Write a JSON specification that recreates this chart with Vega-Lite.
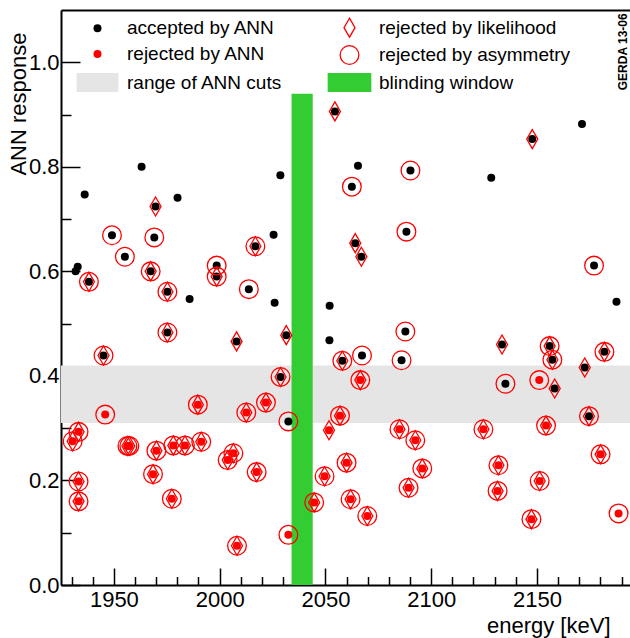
{
  "$schema": "https://vega.github.io/schema/vega-lite/v6.json",
  "width": 569,
  "height": 575,
  "autosize": "none",
  "padding": {"left": 61, "top": 10, "right": 0, "bottom": 53},
  "background": "white",
  "datasets": {
    "bands": [
      {"kind": "range of ANN cuts", "e_lo": 1925, "e_hi": 2194, "a_lo": 0.31, "a_hi": 0.42},
      {"kind": "blinding window", "e_lo": 2034, "e_hi": 2044, "a_lo": 0, "a_hi": 0.94}
    ],
    "events": [
      {"energy": 1931.9, "ann": 0.600, "kind": "accepted by ANN", "lik": false, "asym": false},
      {"energy": 1932.9, "ann": 0.609, "kind": "accepted by ANN", "lik": false, "asym": false},
      {"energy": 1936.2, "ann": 0.747, "kind": "accepted by ANN", "lik": false, "asym": false},
      {"energy": 1938.2, "ann": 0.580, "kind": "accepted by ANN", "lik": true, "asym": true},
      {"energy": 1949.1, "ann": 0.669, "kind": "accepted by ANN", "lik": false, "asym": true},
      {"energy": 1955.2, "ann": 0.628, "kind": "accepted by ANN", "lik": false, "asym": true},
      {"energy": 1963.1, "ann": 0.800, "kind": "accepted by ANN", "lik": false, "asym": false},
      {"energy": 1969.7, "ann": 0.724, "kind": "accepted by ANN", "lik": true, "asym": false},
      {"energy": 1969.1, "ann": 0.665, "kind": "accepted by ANN", "lik": false, "asym": true},
      {"energy": 1967.4, "ann": 0.600, "kind": "accepted by ANN", "lik": true, "asym": true},
      {"energy": 1980.1, "ann": 0.741, "kind": "accepted by ANN", "lik": false, "asym": false},
      {"energy": 1975.3, "ann": 0.561, "kind": "accepted by ANN", "lik": true, "asym": true},
      {"energy": 1985.8, "ann": 0.547, "kind": "accepted by ANN", "lik": false, "asym": false},
      {"energy": 1998.6, "ann": 0.611, "kind": "accepted by ANN", "lik": false, "asym": true},
      {"energy": 1998.6, "ann": 0.590, "kind": "accepted by ANN", "lik": true, "asym": true},
      {"energy": 2013.8, "ann": 0.566, "kind": "accepted by ANN", "lik": false, "asym": true},
      {"energy": 2016.9, "ann": 0.648, "kind": "accepted by ANN", "lik": true, "asym": true},
      {"energy": 2025.5, "ann": 0.670, "kind": "accepted by ANN", "lik": false, "asym": false},
      {"energy": 2026.0, "ann": 0.540, "kind": "accepted by ANN", "lik": false, "asym": false},
      {"energy": 2028.7, "ann": 0.784, "kind": "accepted by ANN", "lik": false, "asym": false},
      {"energy": 2054.5, "ann": 0.906, "kind": "accepted by ANN", "lik": true, "asym": false},
      {"energy": 2171.3, "ann": 0.882, "kind": "accepted by ANN", "lik": false, "asym": false},
      {"energy": 2147.8, "ann": 0.853, "kind": "accepted by ANN", "lik": true, "asym": false},
      {"energy": 2065.4, "ann": 0.802, "kind": "accepted by ANN", "lik": false, "asym": false},
      {"energy": 2090.2, "ann": 0.793, "kind": "accepted by ANN", "lik": false, "asym": true},
      {"energy": 2128.4, "ann": 0.779, "kind": "accepted by ANN", "lik": false, "asym": false},
      {"energy": 2062.5, "ann": 0.762, "kind": "accepted by ANN", "lik": false, "asym": true},
      {"energy": 2088.3, "ann": 0.676, "kind": "accepted by ANN", "lik": false, "asym": true},
      {"energy": 2064.1, "ann": 0.654, "kind": "accepted by ANN", "lik": true, "asym": false},
      {"energy": 2067.0, "ann": 0.628, "kind": "accepted by ANN", "lik": true, "asym": false},
      {"energy": 2177.0, "ann": 0.611, "kind": "accepted by ANN", "lik": false, "asym": true},
      {"energy": 2052.0, "ann": 0.534, "kind": "accepted by ANN", "lik": false, "asym": false},
      {"energy": 2187.6, "ann": 0.542, "kind": "accepted by ANN", "lik": false, "asym": false},
      {"energy": 1975.3, "ann": 0.483, "kind": "accepted by ANN", "lik": true, "asym": true},
      {"energy": 2008.0, "ann": 0.466, "kind": "accepted by ANN", "lik": true, "asym": false},
      {"energy": 2031.5, "ann": 0.478, "kind": "accepted by ANN", "lik": true, "asym": false},
      {"energy": 1945.1, "ann": 0.439, "kind": "accepted by ANN", "lik": true, "asym": true},
      {"energy": 2028.8, "ann": 0.398, "kind": "accepted by ANN", "lik": true, "asym": true},
      {"energy": 2032.5, "ann": 0.313, "kind": "accepted by ANN", "lik": false, "asym": true},
      {"energy": 2087.8, "ann": 0.485, "kind": "accepted by ANN", "lik": false, "asym": true},
      {"energy": 2051.9, "ann": 0.468, "kind": "accepted by ANN", "lik": false, "asym": false},
      {"energy": 2058.0, "ann": 0.429, "kind": "accepted by ANN", "lik": true, "asym": true},
      {"energy": 2067.3, "ann": 0.439, "kind": "accepted by ANN", "lik": false, "asym": true},
      {"energy": 2086.0, "ann": 0.430, "kind": "accepted by ANN", "lik": false, "asym": true},
      {"energy": 2133.5, "ann": 0.460, "kind": "accepted by ANN", "lik": true, "asym": false},
      {"energy": 2156.0, "ann": 0.457, "kind": "accepted by ANN", "lik": true, "asym": true},
      {"energy": 2157.3, "ann": 0.431, "kind": "accepted by ANN", "lik": true, "asym": true},
      {"energy": 2181.9, "ann": 0.446, "kind": "accepted by ANN", "lik": true, "asym": true},
      {"energy": 2172.6, "ann": 0.416, "kind": "accepted by ANN", "lik": true, "asym": false},
      {"energy": 2135.1, "ann": 0.385, "kind": "accepted by ANN", "lik": false, "asym": true},
      {"energy": 2158.4, "ann": 0.376, "kind": "accepted by ANN", "lik": true, "asym": false},
      {"energy": 2174.6, "ann": 0.323, "kind": "accepted by ANN", "lik": true, "asym": true},
      {"energy": 1945.9, "ann": 0.326, "kind": "rejected by ANN", "lik": false, "asym": true},
      {"energy": 1989.7, "ann": 0.345, "kind": "rejected by ANN", "lik": true, "asym": true},
      {"energy": 2012.6, "ann": 0.330, "kind": "rejected by ANN", "lik": true, "asym": true},
      {"energy": 2021.9, "ann": 0.349, "kind": "rejected by ANN", "lik": true, "asym": true},
      {"energy": 1930.5, "ann": 0.275, "kind": "rejected by ANN", "lik": true, "asym": true},
      {"energy": 1933.3, "ann": 0.293, "kind": "rejected by ANN", "lik": true, "asym": true},
      {"energy": 1956.4, "ann": 0.266, "kind": "rejected by ANN", "lik": true, "asym": true},
      {"energy": 1957.3, "ann": 0.266, "kind": "rejected by ANN", "lik": true, "asym": true},
      {"energy": 1970.1, "ann": 0.257, "kind": "rejected by ANN", "lik": true, "asym": true},
      {"energy": 1968.5, "ann": 0.212, "kind": "rejected by ANN", "lik": true, "asym": true},
      {"energy": 1978.1, "ann": 0.267, "kind": "rejected by ANN", "lik": true, "asym": true},
      {"energy": 1983.6, "ann": 0.267, "kind": "rejected by ANN", "lik": true, "asym": true},
      {"energy": 1991.3, "ann": 0.274, "kind": "rejected by ANN", "lik": true, "asym": true},
      {"energy": 2003.8, "ann": 0.239, "kind": "rejected by ANN", "lik": true, "asym": true},
      {"energy": 2006.5, "ann": 0.252, "kind": "rejected by ANN", "lik": true, "asym": true},
      {"energy": 2017.5, "ann": 0.216, "kind": "rejected by ANN", "lik": true, "asym": true},
      {"energy": 1933.3, "ann": 0.198, "kind": "rejected by ANN", "lik": true, "asym": true},
      {"energy": 1933.3, "ann": 0.160, "kind": "rejected by ANN", "lik": true, "asym": true},
      {"energy": 1977.4, "ann": 0.165, "kind": "rejected by ANN", "lik": true, "asym": true},
      {"energy": 2008.2, "ann": 0.075, "kind": "rejected by ANN", "lik": true, "asym": true},
      {"energy": 2032.5, "ann": 0.096, "kind": "rejected by ANN", "lik": false, "asym": true},
      {"energy": 2044.7, "ann": 0.158, "kind": "rejected by ANN", "lik": true, "asym": true},
      {"energy": 2066.5, "ann": 0.392, "kind": "rejected by ANN", "lik": true, "asym": true},
      {"energy": 2151.1, "ann": 0.392, "kind": "rejected by ANN", "lik": false, "asym": true},
      {"energy": 2056.9, "ann": 0.324, "kind": "rejected by ANN", "lik": true, "asym": true},
      {"energy": 2051.7, "ann": 0.296, "kind": "rejected by ANN", "lik": true, "asym": false},
      {"energy": 2085.0, "ann": 0.298, "kind": "rejected by ANN", "lik": true, "asym": true},
      {"energy": 2092.5, "ann": 0.277, "kind": "rejected by ANN", "lik": true, "asym": true},
      {"energy": 2124.7, "ann": 0.298, "kind": "rejected by ANN", "lik": true, "asym": true},
      {"energy": 2154.3, "ann": 0.305, "kind": "rejected by ANN", "lik": true, "asym": true},
      {"energy": 2060.0, "ann": 0.234, "kind": "rejected by ANN", "lik": true, "asym": true},
      {"energy": 2049.6, "ann": 0.208, "kind": "rejected by ANN", "lik": true, "asym": true},
      {"energy": 2095.8, "ann": 0.223, "kind": "rejected by ANN", "lik": true, "asym": true},
      {"energy": 2131.8, "ann": 0.229, "kind": "rejected by ANN", "lik": true, "asym": true},
      {"energy": 2180.1, "ann": 0.250, "kind": "rejected by ANN", "lik": true, "asym": true},
      {"energy": 2089.3, "ann": 0.186, "kind": "rejected by ANN", "lik": true, "asym": true},
      {"energy": 2131.4, "ann": 0.180, "kind": "rejected by ANN", "lik": true, "asym": true},
      {"energy": 2151.3, "ann": 0.199, "kind": "rejected by ANN", "lik": true, "asym": true},
      {"energy": 2061.9, "ann": 0.164, "kind": "rejected by ANN", "lik": true, "asym": true},
      {"energy": 2069.8, "ann": 0.132, "kind": "rejected by ANN", "lik": true, "asym": true},
      {"energy": 2147.4, "ann": 0.126, "kind": "rejected by ANN", "lik": true, "asym": true},
      {"energy": 2188.6, "ann": 0.137, "kind": "rejected by ANN", "lik": false, "asym": true}
    ]
  },
  "layer": [
    {
      "data": {"name": "bands"},
      "mark": {"type": "rect"},
      "encoding": {
        "x": {
          "field": "e_lo", "type": "quantitative",
          "scale": {"domain": [1925, 2194], "nice": false, "zero": false},
          "axis": {
            "orient": "bottom",
            "values": [1930, 1940, 1950, 1960, 1970, 1980, 1990, 2000, 2010, 2020, 2030, 2040, 2050, 2060, 2070, 2080, 2090, 2100, 2110, 2120, 2130, 2140, 2150, 2160, 2170, 2180, 2190],
            "format": "d",
            "labelExpr": "datum.value % 50 === 0 ? datum.label : ''",
            "tickSize": {"condition": {"test": "datum.value % 50 === 0", "value": -17}, "value": -8.5},
            "labelPadding": 21,
            "labelOverlap": false,
            "labelFlush": false,
            "title": "energy [keV]",
            "titleAlign": "right",
            "titleBaseline": "alphabetic",
            "titleX": 549,
            "titleY": 47
          }
        },
        "x2": {"field": "e_hi"},
        "y": {
          "field": "a_lo", "type": "quantitative",
          "scale": {"domain": [0, 1.1], "nice": false, "zero": false},
          "axis": {
            "values": [0, 0.05, 0.1, 0.15, 0.2, 0.25, 0.3, 0.35, 0.4, 0.45, 0.5, 0.55, 0.6, 0.65, 0.7, 0.75, 0.8, 0.85, 0.9, 0.95, 1.0, 1.05],
            "labelExpr": "round(datum.value * 100) % 20 === 0 ? format(datum.value, '.1f') : ''",
            "tickSize": {"condition": {"test": "round(datum.value * 100) % 20 === 0", "value": -19}, "value": -10},
            "labelPadding": 21,
            "labelOverlap": false,
            "labelFlush": false,
            "title": "ANN response",
            "titleAlign": "right",
            "titleBaseline": "alphabetic",
            "titleX": -36,
            "titleY": 22
          }
        },
        "y2": {"field": "a_hi"},
        "fill": {
          "field": "kind", "type": "nominal", "title": null,
          "scale": {
            "type": "ordinal",
            "domain": ["accepted by ANN", "rejected by ANN", "range of ANN cuts", "rejected by likelihood", "rejected by asymmetry", "blinding window"],
            "range": ["black", "red", "#e5e5e5", "transparent", "transparent", "#33cc33"]
          }
        }
      }
    },
    {
      "data": {"name": "events"},
      "mark": {"type": "point", "filled": true, "opacity": 1, "strokeWidth": 1.3},
      "encoding": {
        "x": {
          "field": "energy", "type": "quantitative",
          "axis": {"orient": "top", "ticks": false, "labels": false, "domain": true, "domainColor": "black", "domainWidth": 2, "title": null, "grid": false}
        },
        "y": {"field": "ann", "type": "quantitative"},
        "fill": {
          "field": "kind", "type": "nominal", "title": null,
          "scale": {
            "type": "ordinal",
            "domain": ["accepted by ANN", "rejected by ANN", "range of ANN cuts", "rejected by likelihood", "rejected by asymmetry", "blinding window"],
            "range": ["black", "red", "#e5e5e5", "transparent", "transparent", "#33cc33"]
          }
        },
        "stroke": {
          "field": "kind", "type": "nominal", "title": null,
          "scale": {
            "type": "ordinal",
            "domain": ["accepted by ANN", "rejected by ANN", "range of ANN cuts", "rejected by likelihood", "rejected by asymmetry", "blinding window"],
            "range": ["transparent", "transparent", "transparent", "red", "red", "transparent"]
          }
        },
        "shape": {
          "field": "kind", "type": "nominal", "title": null,
          "scale": {
            "type": "ordinal",
            "domain": ["accepted by ANN", "rejected by ANN", "range of ANN cuts", "rejected by likelihood", "rejected by asymmetry", "blinding window"],
            "range": ["circle", "circle", "M-2.2,-1L2.2,-1L2.2,1L-2.2,1Z", "M0,-1L0.58,0L0,1L-0.58,0Z", "circle", "M-2.3,-1L2.3,-1L2.3,1L-2.3,1Z"]
          }
        },
        "size": {
          "field": "kind", "type": "nominal", "title": null,
          "scale": {
            "type": "ordinal",
            "domain": ["accepted by ANN", "rejected by ANN", "range of ANN cuts", "rejected by likelihood", "rejected by asymmetry", "blinding window"],
            "range": [64, 64, 361, 361, 350, 361]
          }
        }
      }
    },
    {
      "data": {"name": "events"},
      "transform": [{"filter": "datum.lik"}],
      "mark": {"type": "point", "filled": true, "opacity": 1, "strokeWidth": 1.3},
      "encoding": {
        "x": {"field": "energy", "type": "quantitative", "axis": null},
        "y": {"field": "ann", "type": "quantitative"},
        "fill": {
          "datum": "rejected by likelihood", "type": "nominal", "title": null,
          "scale": {
            "type": "ordinal",
            "domain": ["accepted by ANN", "rejected by ANN", "range of ANN cuts", "rejected by likelihood", "rejected by asymmetry", "blinding window"],
            "range": ["black", "red", "#e5e5e5", "transparent", "transparent", "#33cc33"]
          }
        },
        "stroke": {
          "datum": "rejected by likelihood", "type": "nominal", "title": null,
          "scale": {
            "type": "ordinal",
            "domain": ["accepted by ANN", "rejected by ANN", "range of ANN cuts", "rejected by likelihood", "rejected by asymmetry", "blinding window"],
            "range": ["transparent", "transparent", "transparent", "red", "red", "transparent"]
          }
        },
        "shape": {
          "datum": "rejected by likelihood", "type": "nominal", "title": null,
          "scale": {
            "type": "ordinal",
            "domain": ["accepted by ANN", "rejected by ANN", "range of ANN cuts", "rejected by likelihood", "rejected by asymmetry", "blinding window"],
            "range": ["circle", "circle", "M-2.2,-1L2.2,-1L2.2,1L-2.2,1Z", "M0,-1L0.58,0L0,1L-0.58,0Z", "circle", "M-2.3,-1L2.3,-1L2.3,1L-2.3,1Z"]
          }
        },
        "size": {
          "datum": "rejected by likelihood", "type": "nominal", "title": null,
          "scale": {
            "type": "ordinal",
            "domain": ["accepted by ANN", "rejected by ANN", "range of ANN cuts", "rejected by likelihood", "rejected by asymmetry", "blinding window"],
            "range": [64, 64, 361, 361, 350, 361]
          }
        }
      }
    },
    {
      "data": {"name": "events"},
      "transform": [{"filter": "datum.asym"}],
      "mark": {"type": "point", "filled": true, "opacity": 1, "strokeWidth": 1.3},
      "encoding": {
        "x": {"field": "energy", "type": "quantitative", "axis": null},
        "y": {"field": "ann", "type": "quantitative"},
        "fill": {
          "datum": "rejected by asymmetry", "type": "nominal", "title": null,
          "scale": {
            "type": "ordinal",
            "domain": ["accepted by ANN", "rejected by ANN", "range of ANN cuts", "rejected by likelihood", "rejected by asymmetry", "blinding window"],
            "range": ["black", "red", "#e5e5e5", "transparent", "transparent", "#33cc33"]
          }
        },
        "stroke": {
          "datum": "rejected by asymmetry", "type": "nominal", "title": null,
          "scale": {
            "type": "ordinal",
            "domain": ["accepted by ANN", "rejected by ANN", "range of ANN cuts", "rejected by likelihood", "rejected by asymmetry", "blinding window"],
            "range": ["transparent", "transparent", "transparent", "red", "red", "transparent"]
          }
        },
        "shape": {
          "datum": "rejected by asymmetry", "type": "nominal", "title": null,
          "scale": {
            "type": "ordinal",
            "domain": ["accepted by ANN", "rejected by ANN", "range of ANN cuts", "rejected by likelihood", "rejected by asymmetry", "blinding window"],
            "range": ["circle", "circle", "M-2.2,-1L2.2,-1L2.2,1L-2.2,1Z", "M0,-1L0.58,0L0,1L-0.58,0Z", "circle", "M-2.3,-1L2.3,-1L2.3,1L-2.3,1Z"]
          }
        },
        "size": {
          "datum": "rejected by asymmetry", "type": "nominal", "title": null,
          "scale": {
            "type": "ordinal",
            "domain": ["accepted by ANN", "rejected by ANN", "range of ANN cuts", "rejected by likelihood", "rejected by asymmetry", "blinding window"],
            "range": [64, 64, 361, 361, 350, 361]
          }
        }
      }
    },
    {
      "data": {"values": [{}]},
      "mark": {"type": "text", "text": "GERDA 13-06", "angle": 270, "align": "center", "baseline": "middle", "font": "Liberation Sans", "fontSize": 12, "fontWeight": "bold", "color": "black"},
      "encoding": {
        "x": {"datum": 2190.8, "type": "quantitative", "axis": null},
        "y": {"datum": 1.02, "type": "quantitative"}
      }
    }
  ],
  "resolve": {"axis": {"x": "independent"}},
  "config": {
    "view": {"stroke": null},
    "axis": {
      "grid": false,
      "domainColor": "black",
      "domainWidth": 2,
      "tickColor": "black",
      "tickWidth": 1.5,
      "labelFont": "Liberation Sans",
      "labelFontSize": 22,
      "labelColor": "black",
      "titleFont": "Liberation Sans",
      "titleFontSize": 22,
      "titleFontWeight": "normal",
      "titleColor": "black"
    },
    "legend": {
      "orient": "none",
      "legendX": 15,
      "legendY": 7,
      "columns": 2,
      "columnPadding": 42,
      "rowPadding": 2.5,
      "padding": 0,
      "labelFont": "Liberation Sans",
      "labelFontSize": 19,
      "labelColor": "black",
      "labelOffset": 19,
      "symbolOffset": 11,
      "labelLimit": 400,
      "symbolStrokeWidth": 1.3
    }
  }
}
